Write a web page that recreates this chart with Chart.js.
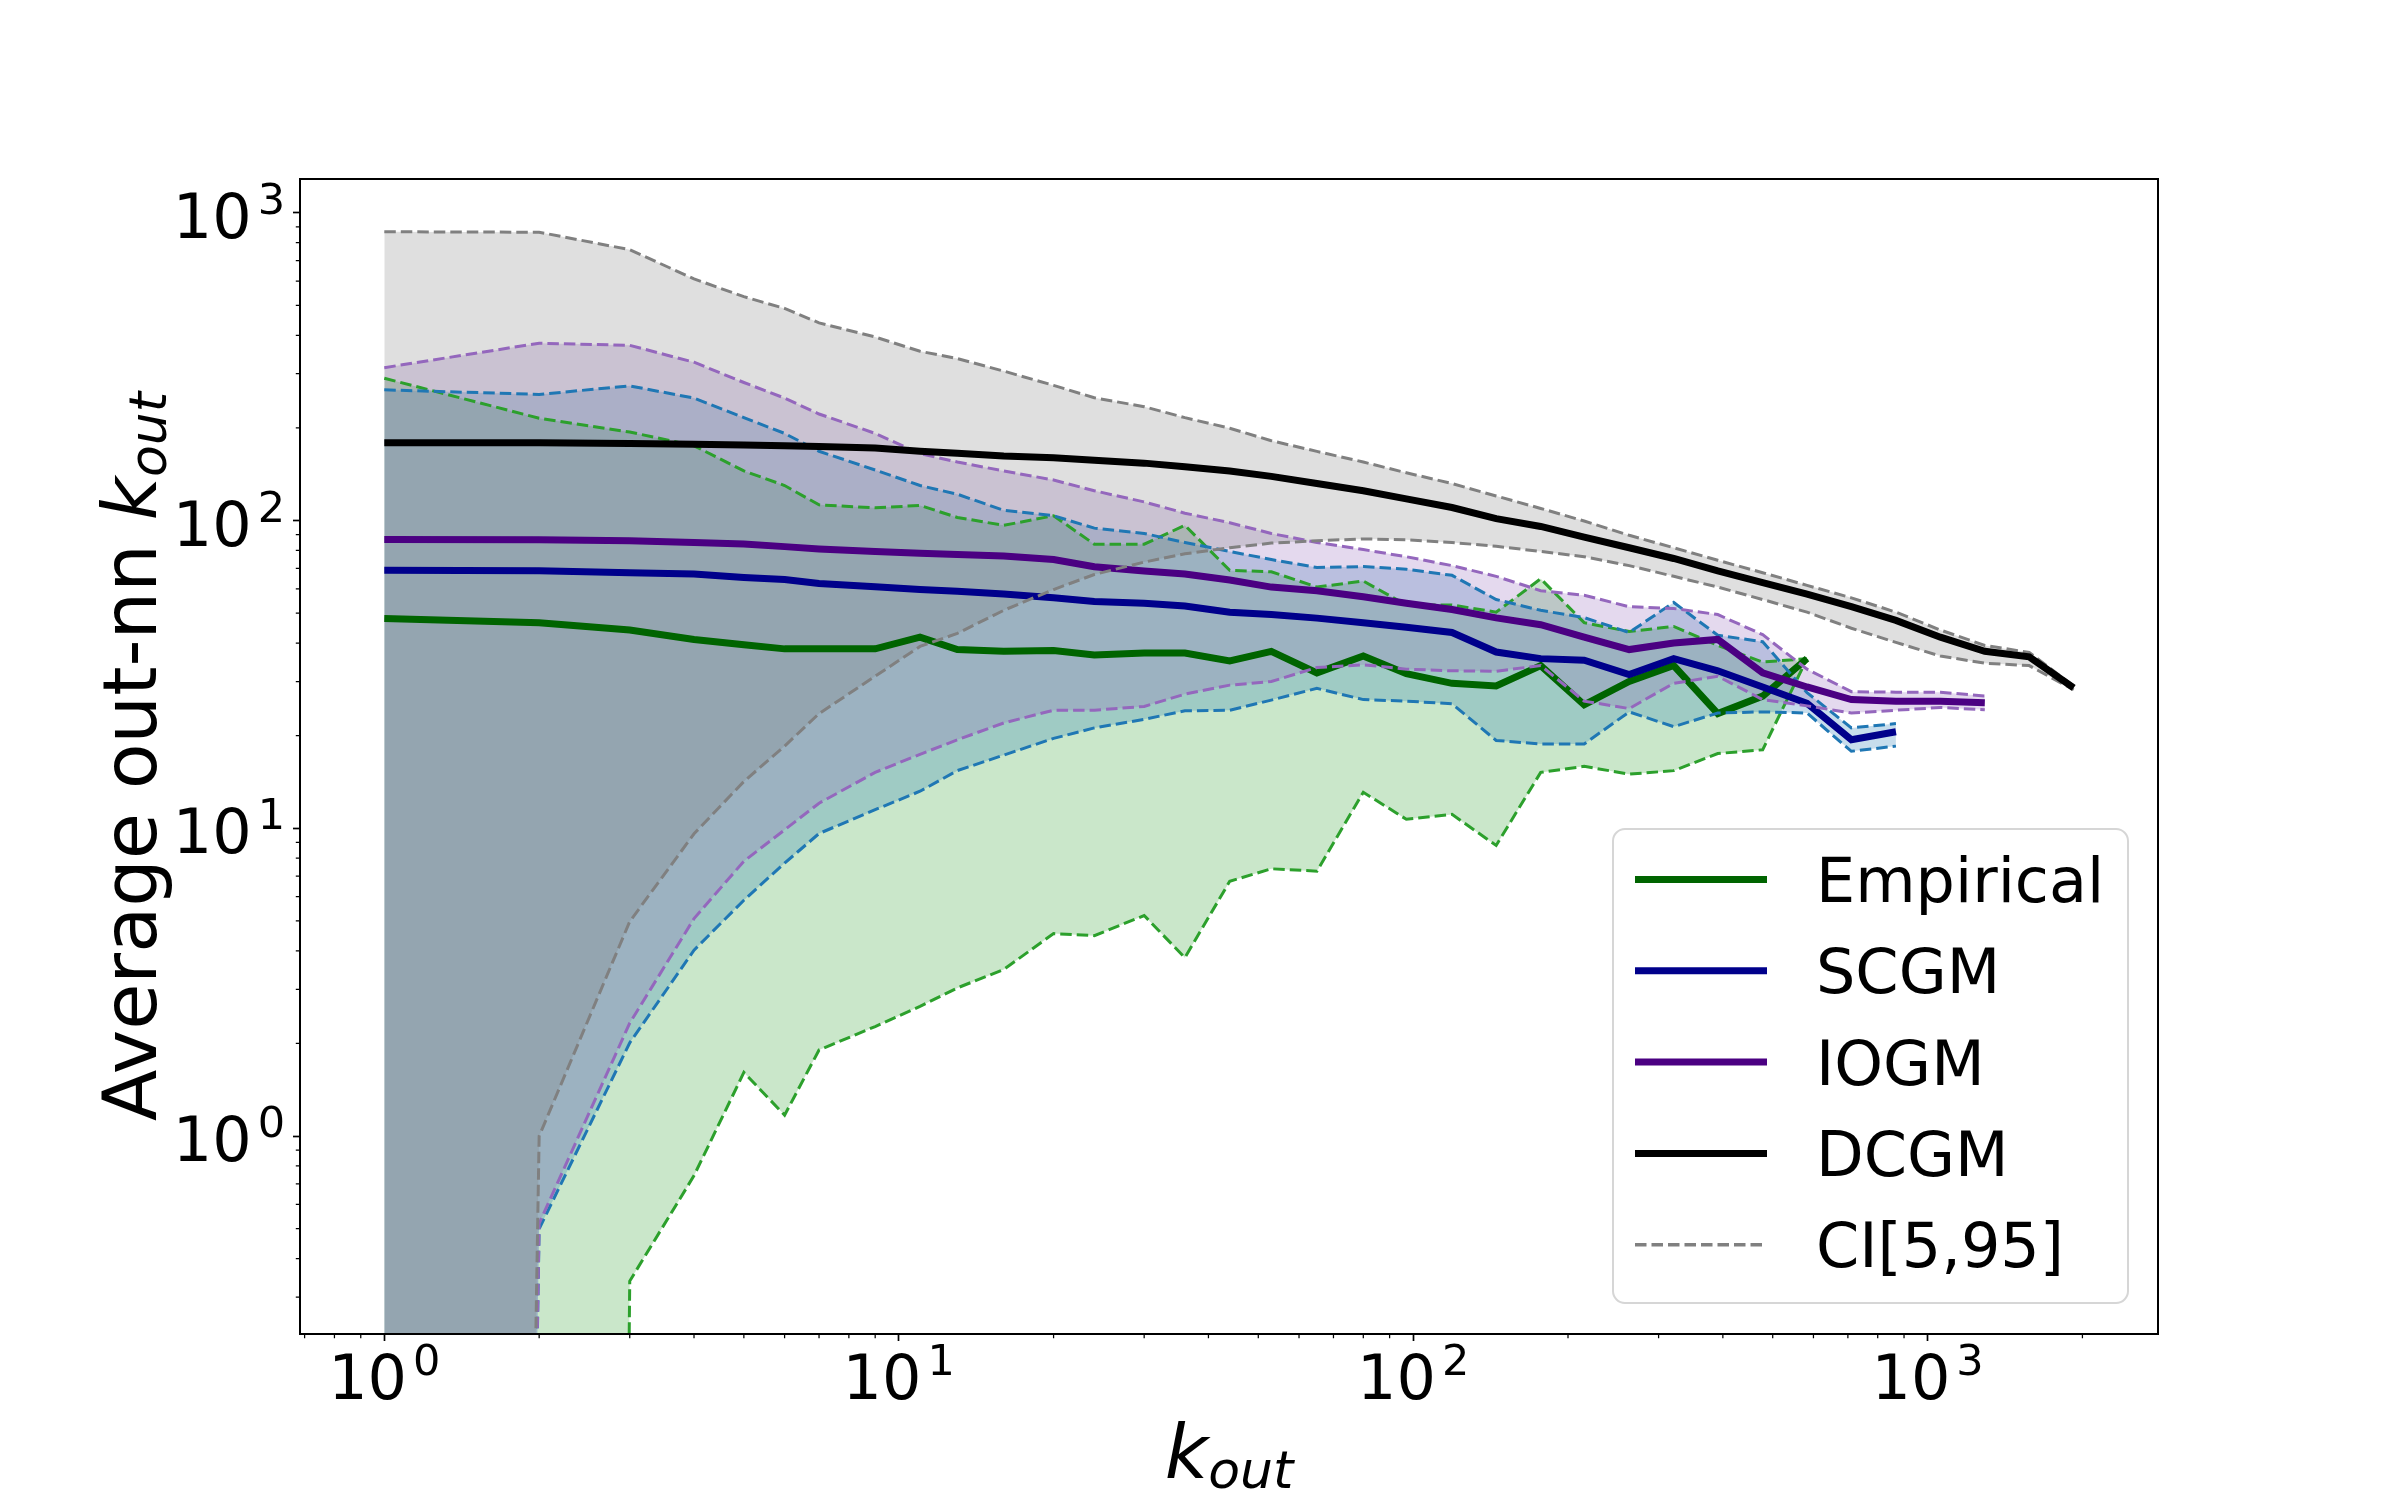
<!DOCTYPE html>
<html lang="en">
<head>
<meta charset="UTF-8">
<title>Average out-nn k_out</title>
<script src="https://cdn.jsdelivr.net/npm/chart.js"></script>
<style>
    html, body { margin: 0; padding: 0; background: #fff; }
    #wrap { width: 2400px; height: 1500px; }
</style>
</head>
<body>
<div id="wrap"><canvas id="grafico" width="2400" height="1500"></canvas></div>

<script>
    // bins of k_out (x axis)
    const kOut = [1, 2, 3, 4, 5, 6, 7, 9, 11, 13, 16, 20, 24, 30, 36, 44, 53, 65, 80, 97,
        119, 145, 177, 215, 263, 321, 391, 478, 583, 711, 868, 1059, 1292, 1576, 1923];

    // Empirical
    const empMean = [48.1, 46.6, 44.1, 41.1, 39.5, 38.3, 38.3, 38.3, 41.8, 38.1, 37.6, 37.8, 36.6, 37.1, 37.1,
        35.0, 37.6, 32.0, 36.3, 31.8, 29.6, 29.0, 33.8, 25.2, 30.0, 33.8, 23.6, 26.9, 35.6];
    const empHigh = [290, 215, 194, 175, 145, 130, 112.5, 110, 112, 102.4, 96.5, 103.7, 83.8, 83.8, 96.5,
        68.9, 68.2, 60.8, 63.6, 53.2, 53.2, 50.4, 64.7, 46.6, 43.6, 45.3, 39.3, 34.7, 35.6];
    const empLow = [0, 0, 0.338, 0.744, 1.61, 1.17, 1.905, 2.27, 2.64, 3.03, 3.48, 4.55, 4.48, 5.21, 3.8,
        6.73, 7.39, 7.26, 13.1, 10.7, 11.1, 8.8, 15.2, 15.9, 15.0, 15.4, 17.5, 18.0, 35.6];

    // SCGM
    const scgmMean = [69, 68.7, 67.7, 67, 65.3, 64.3, 62.5, 61, 59.7, 58.9, 57.7, 56.1, 54.6, 53.9, 52.8,
        50.4, 49.5, 48.2, 46.6, 45.0, 43.3, 37.4, 35.6, 35.2, 31.6, 35.6, 32.5, 28.8, 25.5, 19.4, 20.6];
    const scgmHigh = [266, 257, 274, 250, 216, 192, 168, 146, 130, 121.8, 108, 103.7, 94.5, 90.8, 84.9,
        79.4, 74.7, 70.4, 70.9, 69.5, 66.4, 55.4, 51.1, 48.4, 43.3, 54.2, 42.4, 40.4, 27.6, 21.2, 21.9];
    const scgmLow = [0, 0.5, 2.01, 4.02, 5.84, 7.71, 9.62, 11.5, 13.2, 15.4, 17.3, 19.6, 21.2, 22.6, 24.1,
        24.2, 26.1, 28.5, 26.2, 25.9, 25.4, 19.3, 18.8, 18.8, 23.9, 21.4, 23.7, 23.9, 23.7, 17.8, 18.5];

    // IOGM
    const iogmMean = [86.8, 86.6, 86, 84.9, 84, 82.3, 80.9, 79.4, 78.3, 77.6, 76.7, 74.7, 70.8, 68.6, 67.1,
        64.1, 60.8, 59.2, 56.6, 53.9, 51.4, 48.3, 45.9, 41.8, 38.1, 40.0, 41.1, 32.0, 28.8, 26.2, 25.9, 25.9, 25.6];
    const iogmHigh = [314, 377, 371, 327, 281, 250, 222, 192, 165, 155, 145, 135.5, 125, 115, 105.7,
        98.4, 90.8, 84.9, 80.5, 76.3, 71.4, 65.9, 59.2, 57.2, 52.5, 51.8, 49.5, 42.6, 32.9, 27.8, 27.7, 27.7, 26.9];
    const iogmLow = [0, 0.52, 2.33, 5.09, 7.82, 9.89, 12.07, 15.2, 17.4, 19.4, 22.0, 24.2, 24.2, 24.9, 27.3,
        29.2, 30.0, 33.3, 34.0, 32.9, 32.5, 32.4, 33.8, 25.9, 24.5, 29.6, 31.2, 26.2, 25.0, 23.7, 24.2, 24.7, 24.3];

    // DCGM
    const dcgmMean = [179, 179, 178, 177, 176, 175, 174, 172, 168, 165.5, 162, 160, 157, 153.7, 149.6,
        145, 139.2, 132, 125, 117.6, 110.3, 101.5, 95.7, 88.4, 81.6, 75.3, 68.6, 62.9, 57.7, 52.5, 47.4, 41.8, 37.6, 36.1, 28.6];
    const dcgmHigh = [868, 865, 759, 610, 534, 489, 439, 395, 355, 336, 306, 275, 250.6, 234.5, 216,
        199.6, 181.8, 167.8, 155, 143, 132, 120.2, 109.5, 99.7, 89.6, 81.6, 74.3, 67.7, 61.6, 56.1, 50.4, 44.1, 39.3, 37.3, 29.0];
    const dcgmLow = [0, 1.0, 4.98, 9.6, 14.2, 18.5, 23.6, 31.2, 39, 43.0, 51.1, 59.7, 66.8, 73.3, 78,
        81.6, 84.5, 86.0, 87.2, 86.6, 84.9, 82.5, 79.4, 76.3, 71.4, 65.9, 60.8, 55.4, 50.4, 44.7, 40.2, 36.3, 34.4, 33.8, 28.2];

    const modelNames = ['Empirical', 'SCGM', 'IOGM', 'DCGM'];
    const ciLabel = 'CI[5,95]';
    const xTicks = [1, 10, 100, 1000];
    const yTicks = [1, 10, 100, 1000];
    const xRange = [0.6857, 2805];
    const yRange = [0.2275, 1288];

    // styles
    const meanColor = { Empirical: '#006400', SCGM: '#00008b', IOGM: '#4b0082', DCGM: '#000000' };
    const ciColor = { Empirical: '#2ca02c', SCGM: '#1f77b4', IOGM: '#9467bd', DCGM: '#808080' };
    const ciFill = {
        Empirical: 'rgba(44,160,44,0.25)', SCGM: 'rgba(31,119,180,0.25)',
        IOGM: 'rgba(148,103,189,0.25)', DCGM: 'rgba(128,128,128,0.25)'
    };
    const seriesOf = {
        Empirical: [empMean, empHigh, empLow],
        SCGM: [scgmMean, scgmHigh, scgmLow],
        IOGM: [iogmMean, iogmHigh, iogmLow],
        DCGM: [dcgmMean, dcgmHigh, dcgmLow]
    };

    const MEAN_W = 7;
    const CI_W = 3;
    const CI_DASH = [11.5, 5];
    const FONT = 'DejaVu Sans';

    // a 0 in the CI can't sit on a log axis, push it far below the frame
    const FLOOR = 1e-30;

    function pontos(ys) {
        return ys.map((y, i) => ({ x: kOut[i], y: y === 0 ? FLOOR : y }));
    }

    // chart.js draws the first dataset on top, so DCGM goes first
    let datasets = [];
    modelNames.slice().reverse().forEach(nome => {
        const [m, hi, lo] = seriesOf[nome];
        const base = datasets.length;
        datasets.push({
            label: nome, data: pontos(m), borderColor: meanColor[nome], borderWidth: MEAN_W,
            fill: false, clip: 0
        });
        datasets.push({
            label: nome + ' 95', data: pontos(hi), borderColor: ciColor[nome], borderWidth: CI_W,
            borderDash: CI_DASH, backgroundColor: ciFill[nome], fill: base + 2, clip: 0
        });
        datasets.push({
            label: nome + ' 5', data: pontos(lo), borderColor: ciColor[nome], borderWidth: CI_W,
            borderDash: CI_DASH, fill: false, clip: 0
        });
    });

    function menores(lo, hi) {
        let out = [];
        for (let e = Math.floor(Math.log10(lo)); e <= Math.ceil(Math.log10(hi)); e++) {
            for (let m = 2; m <= 9; m++) {
                const v = m * Math.pow(10, e);
                if (v >= lo && v <= hi) out.push(v);
            }
        }
        return out;
    }

    // minor ticks + the four spines
    const moldura = {
        id: 'moldura',
        afterDatasetsDraw(chart) {
            const { ctx, chartArea: a } = chart;
            const x = chart.scales.x, y = chart.scales.y;
            ctx.save();
            ctx.strokeStyle = '#000';
            ctx.lineWidth = 1.25;
            ctx.beginPath();
            menores(x.min, x.max).forEach(v => {
                const px = x.getPixelForValue(v);
                ctx.moveTo(px, a.bottom);
                ctx.lineTo(px, a.bottom + 4.2);
            });
            menores(y.min, y.max).forEach(v => {
                const py = y.getPixelForValue(v);
                ctx.moveTo(a.left, py);
                ctx.lineTo(a.left - 4.2, py);
            });
            ctx.stroke();
            ctx.lineWidth = 2;
            ctx.strokeRect(a.left, a.top, a.right - a.left, a.bottom - a.top);
            ctx.restore();
        }
    };

    // draws a run of text pieces, each with its own font and baseline shift
    function textoK(ctx, partes, x, y, alinha) {
        let w = 0;
        partes.forEach(p => { ctx.font = p.font; w += ctx.measureText(p.t).width + (p.gap || 0); });
        let cx = alinha === 'center' ? x - w / 2 : (alinha === 'right' ? x - w : x);
        partes.forEach(p => {
            ctx.font = p.font;
            cx += p.gap || 0;
            ctx.fillText(p.t, cx, y + (p.dy || 0));
            cx += ctx.measureText(p.t).width;
        });
    }

    // "10" with a raised exponent, like the tick labels of the original
    function rotuloPot(v) {
        return [
            { t: '10', font: '62px "' + FONT + '"' },
            { t: String(Math.round(Math.log10(v))), font: '43px "' + FONT + '"', dy: -24, gap: 6 }
        ];
    }

    // tick labels, axis titles with k_out subscript, and the legend box
    const textos = {
        id: 'textos',
        afterDraw(chart) {
            const { ctx, chartArea: a } = chart;
            const x = chart.scales.x, y = chart.scales.y;
            ctx.save();
            ctx.fillStyle = '#000';
            ctx.textBaseline = 'alphabetic';
            ctx.textAlign = 'left';

            xTicks.forEach(v => textoK(ctx, rotuloPot(v), x.getPixelForValue(v), a.bottom + 65, 'center'));
            yTicks.forEach(v => textoK(ctx, rotuloPot(v), a.left - 15, y.getPixelForValue(v) + 25, 'right'));

            const kPart = [
                { t: 'k', font: 'italic 75px "' + FONT + '"' },
                { t: 'out', font: 'italic 52px "' + FONT + '"', dy: 10 }
            ];
            textoK(ctx, kPart, (a.left + a.right) / 2, 1478, 'center');

            ctx.save();
            ctx.translate(156, (a.top + a.bottom) / 2);
            ctx.rotate(-Math.PI / 2);
            textoK(ctx, [{ t: 'Average out-nn ', font: '75px "' + FONT + '"' }].concat(kPart), 0, 0, 'center');
            ctx.restore();

            // legend
            const bx = 1613, by = 829, bw = 515, bh = 474, r = 12;
            ctx.beginPath();
            ctx.roundRect(bx, by, bw, bh, r);
            ctx.fillStyle = 'rgba(255,255,255,0.8)';
            ctx.fill();
            ctx.strokeStyle = '#d6d6d6';
            ctx.lineWidth = 2;
            ctx.stroke();

            const itens = modelNames.map(n => ({ t: n, c: meanColor[n], w: MEAN_W, dash: [] }))
                .concat([{ t: ciLabel, c: ciColor.DCGM, w: CI_W + 0.5, dash: CI_DASH }]);
            ctx.font = '62px "' + FONT + '"';
            itens.forEach((it, i) => {
                const cy = 879.5 + i * 91.3;
                ctx.beginPath();
                ctx.setLineDash(it.dash);
                ctx.strokeStyle = it.c;
                ctx.lineWidth = it.w;
                ctx.moveTo(1635, cy);
                ctx.lineTo(1767, cy);
                ctx.stroke();
                ctx.setLineDash([]);
                ctx.fillStyle = '#000';
                ctx.fillText(it.t, 1816, cy + 22.5);
            });
            ctx.restore();
        }
    };

    function eixo(vals, faixa, extra) {
        return Object.assign({
            type: 'logarithmic',
            min: faixa[0],
            max: faixa[1],
            bounds: 'data',
            afterBuildTicks: s => { s.ticks = vals.map(v => ({ value: v, major: true })); },
            border: { display: false },
            grid: {
                drawOnChartArea: false, drawTicks: true, tickLength: 7,
                tickWidth: 1.7, tickColor: '#000'
            },
            ticks: { display: false },
            title: { display: false }
        }, extra);
    }

    Chart.defaults.font.family = FONT;

    new Chart(document.getElementById('grafico'), {
        type: 'line',
        data: { datasets: datasets },
        options: {
            responsive: false,
            animation: false,
            devicePixelRatio: 1,
            layout: { padding: { top: 179, right: 242, bottom: 0, left: 0 } },
            elements: { point: { radius: 0 }, line: { tension: 0 } },
            plugins: {
                legend: { display: false },
                tooltip: { enabled: false },
                filler: { drawTime: 'beforeDatasetsDraw' }
            },
            scales: {
                x: eixo(xTicks, xRange, { afterFit: s => { s.height = 166; } }),
                y: eixo(yTicks, yRange, { afterFit: s => { s.width = 300; } })
            }
        },
        plugins: [moldura, textos]
    });
</script>
</body>
</html>
